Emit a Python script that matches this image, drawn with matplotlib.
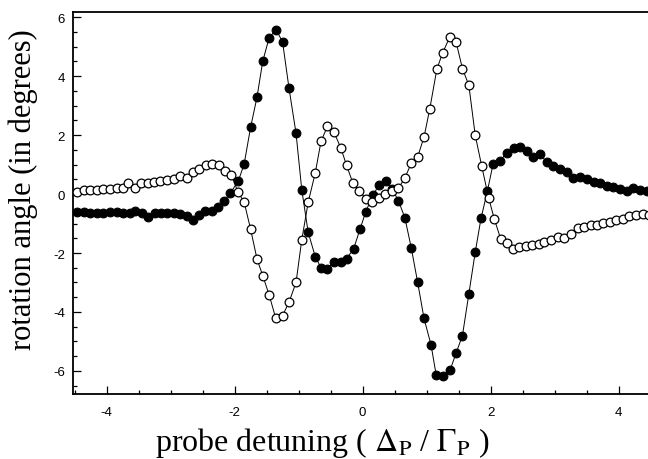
import numpy as np
import matplotlib
matplotlib.use("Agg")
import matplotlib.pyplot as plt
from matplotlib.ticker import MultipleLocator

# filled circles
x_filled = [-4.47, -4.36, -4.26, -4.15, -4.05, -3.95, -3.84, -3.74, -3.64, -3.55,
            -3.45, -3.36, -3.25, -3.15, -3.05, -2.95, -2.85, -2.75, -2.65, -2.56,
            -2.46, -2.36, -2.26, -2.16, -2.07, -1.94, -1.85, -1.75, -1.65, -1.56,
            -1.46, -1.35, -1.25, -1.15, -1.04, -0.95, -0.85, -0.74, -0.65, -0.55,
            -0.45, -0.34, -0.25, -0.14, -0.04, 0.05, 0.16, 0.26, 0.36, 0.46,
            0.56, 0.66, 0.76, 0.86, 0.96, 1.07, 1.15, 1.26, 1.37, 1.46,
            1.56, 1.66, 1.76, 1.85, 1.95, 2.04, 2.15, 2.25, 2.36, 2.46,
            2.57, 2.67, 2.77, 2.88, 2.98, 3.09, 3.19, 3.29, 3.40, 3.50,
            3.61, 3.71, 3.82, 3.92, 4.02, 4.13, 4.23, 4.34, 4.44]
y_filled = [-0.60, -0.62, -0.63, -0.64, -0.63, -0.62, -0.61, -0.64, -0.65, -0.57,
            -0.66, -0.78, -0.64, -0.63, -0.64, -0.66, -0.68, -0.74, -0.88, -0.72,
            -0.58, -0.56, -0.45, -0.23, 0.02, 0.45, 1.02, 2.26, 3.28, 4.50,
            5.30, 5.57, 5.15, 3.59, 2.06, 0.14, -1.30, -2.12, -2.50, -2.55,
            -2.29, -2.32, -2.19, -1.86, -1.19, -0.60, -0.04, 0.31, 0.44, 0.18,
            -0.23, -0.80, -1.82, -2.99, -4.22, -5.12, -6.14, -6.18, -5.95, -5.40,
            -4.80, -3.39, -1.97, -0.83, 0.10, 1.03, 1.12, 1.40, 1.56, 1.58,
            1.47, 1.24, 1.36, 1.07, 0.96, 0.85, 0.74, 0.53, 0.57, 0.51,
            0.40, 0.36, 0.28, 0.23, 0.17, 0.11, 0.19, 0.14, 0.09]

# open circles
x_open = [-4.47, -4.36, -4.26, -4.15, -4.05, -3.94, -3.84, -3.74, -3.66, -3.56,
          -3.46, -3.36, -3.26, -3.16, -3.05, -2.95, -2.86, -2.75, -2.65, -2.55,
          -2.45, -2.35, -2.25, -2.15, -2.05, -1.95, -1.85, -1.75, -1.65, -1.56,
          -1.46, -1.36, -1.25, -1.15, -1.04, -0.95, -0.85, -0.74, -0.65, -0.55,
          -0.45, -0.34, -0.25, -0.15, -0.05, 0.05, 0.15, 0.25, 0.35, 0.46,
          0.56, 0.66, 0.76, 0.86, 0.96, 1.05, 1.16, 1.25, 1.36, 1.46,
          1.56, 1.66, 1.76, 1.86, 1.97, 2.06, 2.16, 2.25, 2.35, 2.45,
          2.55, 2.65, 2.75, 2.84, 2.95, 3.05, 3.15, 3.26, 3.36, 3.46,
          3.57, 3.67, 3.76, 3.87, 3.96, 4.07, 4.17, 4.27, 4.38, 4.47]
y_open = [0.07, 0.13, 0.12, 0.14, 0.16, 0.18, 0.21, 0.22, 0.37, 0.22,
          0.37, 0.38, 0.42, 0.45, 0.48, 0.52, 0.62, 0.55, 0.76, 0.86,
          0.97, 1.02, 0.97, 0.78, 0.65, 0.08, -0.28, -1.19, -2.20, -2.77,
          -3.42, -4.19, -4.12, -3.67, -3.00, -1.55, -0.28, 0.71, 1.78, 2.29,
          2.11, 1.56, 0.97, 0.36, 0.11, -0.16, -0.26, -0.14, -0.01, 0.10,
          0.20, 0.54, 1.04, 1.26, 1.93, 2.89, 4.23, 4.78, 5.31, 5.16,
          4.25, 3.69, 1.99, 0.96, -0.14, -0.86, -1.54, -1.66, -1.86, -1.81,
          -1.76, -1.73, -1.69, -1.62, -1.55, -1.47, -1.50, -1.36, -1.16, -1.13,
          -1.05, -1.04, -0.98, -0.94, -0.87, -0.85, -0.73, -0.71, -0.68, -0.70]

xticks = [-4, -2, 0, 2, 4]
yticks = [-6, -4, -2, 0, 2, 4, 6]

plt.rcParams['mathtext.fontset'] = 'stix'

fig = plt.figure(figsize=(6.48, 4.6), dpi=100)
ax = fig.add_axes([73.3 / 648, 65 / 460, 577.3 / 648, 381.7 / 460])

ax.plot(x_filled, y_filled, color='black', lw=0.7, marker='o', ms=6.3,
        mfc='black', mec='black', mew=0.8, zorder=2)
ax.plot(x_open, y_open, color='black', lw=0.7, marker='o', ms=6.3,
        mfc='white', mec='black', mew=0.9, zorder=3)

ax.set_xlim(-4.52, 4.5)
ax.set_ylim(-6.78, 6.16)

ax.set_xticks(xticks)
ax.set_xticklabels([str(t) for t in xticks], family='Liberation Sans', fontsize=9.5)
ax.set_yticks(yticks)
ax.set_yticklabels([str(t) for t in yticks], family='Liberation Sans', fontsize=9.5)
ax.xaxis.set_minor_locator(MultipleLocator(0.5))
ax.yaxis.set_minor_locator(MultipleLocator(0.5))

ax.tick_params(which='both', direction='in', top=False, right=False, width=0.9)
ax.tick_params(which='major', length=6)
ax.tick_params(which='minor', length=3)
ax.tick_params(axis='x', pad=9)
ax.tick_params(axis='y', pad=6)
for s in ax.spines.values():
    s.set_linewidth(1.3)

ax.set_xlabel(r'probe detuning ( $\Delta_\mathrm{P}$ / $\Gamma_\mathrm{P}$ )',
              family='Liberation Serif', fontsize=23)
ax.xaxis.set_label_coords(0.431, -0.08)
ax.set_ylabel('rotation angle (in degrees)', family='Liberation Serif',
              fontsize=22)
ax.yaxis.set_label_coords(-0.062, 0.537)

fig.savefig('out.png', dpi=100)
